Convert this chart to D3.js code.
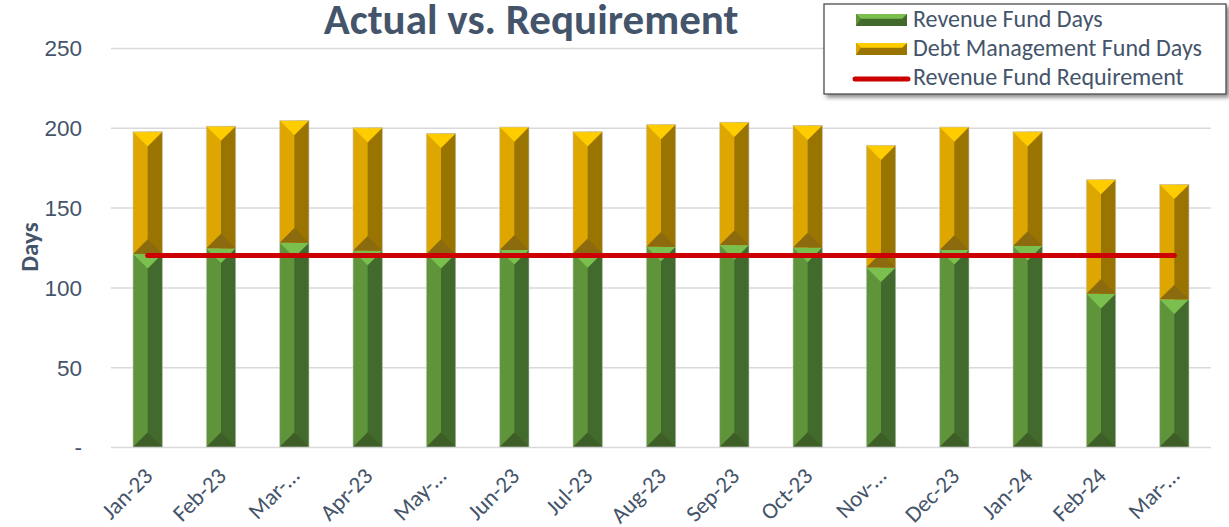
<!DOCTYPE html>
<html>
<head>
<meta charset="utf-8">
<script src="https://cdn.jsdelivr.net/npm/d3@7/dist/d3.min.js"></script>
<style>
  body { margin: 0; background: #fff; }
  svg { display: block; font-family: Carlito, Calibri, "Open Sans", sans-serif; }
  .grid line { stroke: #d9d9d9; stroke-width: 1.5; }
  .grid .domain { display: none; }
  .ylab text, .xlab text { fill: #44546a; }
</style>
</head>
<body>
<div id="chart"></div>
<script>
// chart values
var categories = ["Jan-23", "Feb-23", "Mar-23", "Apr-23", "May-23", "Jun-23", "Jul-23", "Aug-23",
                  "Sep-23", "Oct-23", "Nov-23", "Dec-23", "Jan-24", "Feb-24", "Mar-24"];
var xTickLabels = ["Jan-23", "Feb-23", "Mar-\u2026", "Apr-23", "May-\u2026", "Jun-23", "Jul-23", "Aug-23",
                   "Sep-23", "Oct-23", "Nov-\u2026", "Dec-23", "Jan-24", "Feb-24", "Mar-\u2026"];
var revenueDays = [121, 124.5, 128, 123, 121, 123.5, 121.5, 125.5, 126.5, 125, 112.5, 123.5, 126, 96, 92.5];
var debtDays = [76.5, 76.5, 76.5, 77, 75.5, 77, 76, 76.5, 77, 76.5, 76.5, 77, 71.5, 71.5, 72];
var requirement = [120, 120, 120, 120, 120, 120, 120, 120, 120, 120, 120, 120, 120, 120, 120];
var yTicks = [0, 50, 100, 150, 200, 250];
var yTickLabels = ["-", "50", "100", "150", "200", "250"];
var seriesNames = ["Revenue Fund Days", "Debt Management Fund Days", "Revenue Fund Requirement"];

var W = 1229, H = 527;
var plot = {left: 111, right: 1211, top: 48, bottom: 447};

var green = {left: "#5f943a", right: "#426a2c", top: "#7bbf4f", bottom: "#3d5f27"};
var gold = {left: "#dda600", right: "#9a7400", top: "#ffcc00", bottom: "#8c6a0e"};

var svg = d3.select("#chart").append("svg").attr("width", W).attr("height", H);

var defs = svg.append("defs");
var shadow = defs.append("filter").attr("id", "shadow").attr("x", "-5%").attr("y", "-10%")
    .attr("width", "115%").attr("height", "130%");
shadow.append("feDropShadow").attr("dx", 3).attr("dy", 3).attr("stdDeviation", 2)
    .attr("flood-color", "#000").attr("flood-opacity", 0.45);

var x = d3.scaleBand().domain(categories).range([plot.left, plot.right])
    .paddingInner(0.6).paddingOuter(0.3);
var y = d3.scaleLinear().domain([0, 250]).range([plot.bottom, plot.top]);

// gridlines
svg.append("g").attr("class", "grid")
    .attr("transform", "translate(" + plot.left + ",0)")
    .call(d3.axisLeft(y).tickValues(yTicks).tickSize(-(plot.right - plot.left)).tickFormat(""));

// y tick labels
svg.append("g").attr("class", "ylab")
    .attr("transform", "translate(" + plot.left + ",0)")
    .call(d3.axisLeft(y).tickValues(yTicks).tickSize(0).tickPadding(29)
        .tickFormat(function(d, i) { return yTickLabels[i]; }))
    .call(function(g) { g.select(".domain").remove(); })
    .selectAll("text").attr("font-size", 22.5).attr("font-family", null).attr("dy", "0.35em");

svg.append("text")
    .attr("transform", "translate(38,247) rotate(-90)")
    .attr("text-anchor", "middle")
    .attr("fill", "#44546a").attr("font-weight", "bold").attr("font-size", 25)
    .text("Days");

// beveled bar segment
function bevel(g, x0, x1, yTop, yBot, c) {
    var w = x1 - x0, cx = (x0 + x1) / 2;
    var d = Math.min(w / 2, (yBot - yTop) / 2);
    g.append("rect").attr("x", x0).attr("y", yTop).attr("width", w).attr("height", yBot - yTop).attr("fill", c.left);
    g.append("rect").attr("x", cx).attr("y", yTop).attr("width", w / 2).attr("height", yBot - yTop).attr("fill", c.right);
    g.append("path").attr("fill", c.top)
        .attr("d", "M" + x0 + "," + yTop + "L" + x1 + "," + yTop + "L" + cx + "," + (yTop + d) + "Z");
    g.append("path").attr("fill", c.bottom)
        .attr("d", "M" + x0 + "," + yBot + "L" + x1 + "," + yBot + "L" + cx + "," + (yBot - d) + "Z");
}

var bars = svg.append("g");
categories.forEach(function(cat, i) {
    var g = bars.append("g");
    var x0 = x(cat), x1 = x(cat) + x.bandwidth();
    var r = revenueDays[i], t = revenueDays[i] + debtDays[i];
    bevel(g, x0, x1, y(r), y(0), green);
    bevel(g, x0, x1, y(t), y(r), gold);
    g.append("rect").attr("x", x0).attr("y", y(t)).attr("width", x.bandwidth())
        .attr("height", y(0) - y(t)).attr("fill", "none")
        .attr("stroke", "#c8c8c8").attr("stroke-width", 0.8).attr("stroke-opacity", 0.8);
});

// requirement line
var line = d3.line()
    .x(function(d, i) { return x(categories[i]) + x.bandwidth() / 2; })
    .y(function(d) { return y(d); });
svg.append("path").datum(requirement).attr("d", line)
    .attr("fill", "none").attr("stroke", "#cc0000").attr("stroke-width", 5).attr("stroke-linecap", "round");

// x labels
svg.append("g").attr("class", "xlab").selectAll("text")
    .data(categories).enter().append("text")
    .attr("transform", function(d) {
        return "translate(" + (x(d) + x.bandwidth() / 2 - 5) + ",466) rotate(-45)";
    })
    .attr("text-anchor", "end").attr("dy", "0.7em").attr("font-size", 23)
    .text(function(d, i) { return xTickLabels[i]; });

// title
svg.append("text").attr("x", 531).attr("y", 34).attr("text-anchor", "middle")
    .attr("fill", "#44546a").attr("font-weight", "bold").attr("font-size", 43)
    .text("Actual vs. Requirement");

// legend
var lg = svg.append("g").attr("transform", "translate(824,4)");
lg.append("rect").attr("width", 402).attr("height", 90).attr("fill", "#fff")
    .attr("stroke", "#404040").attr("stroke-width", 1.2).attr("filter", "url(#shadow)");

function swatch(g, x0, y0, w, h, c) {
    var d = h / 2.5;
    g.append("rect").attr("x", x0).attr("y", y0).attr("width", w).attr("height", h).attr("fill", c.right);
    g.append("path").attr("fill", c.top)
        .attr("d", "M" + x0 + "," + y0 + "L" + (x0 + w) + "," + y0 + "L" + (x0 + w - d) + "," + (y0 + d) + "L" + (x0 + d) + "," + (y0 + d) + "Z");
    g.append("path").attr("fill", c.left)
        .attr("d", "M" + x0 + "," + y0 + "L" + (x0 + d) + "," + (y0 + d) + "L" + x0 + "," + (y0 + h) + "Z");
}
swatch(lg, 32, 10, 51, 12, green);
swatch(lg, 32, 39, 51, 12, gold);
lg.append("line").attr("x1", 31).attr("x2", 84).attr("y1", 75).attr("y2", 75)
    .attr("stroke", "#cc0000").attr("stroke-width", 5).attr("stroke-linecap", "round");

lg.selectAll("text.lt").data(seriesNames).enter().append("text")
    .attr("x", 89).attr("y", function(d, i) { return 23 + i * 29; })
    .attr("fill", "#44546a").attr("font-size", 24)
    .text(function(d) { return d; });
</script>
</body>
</html>
